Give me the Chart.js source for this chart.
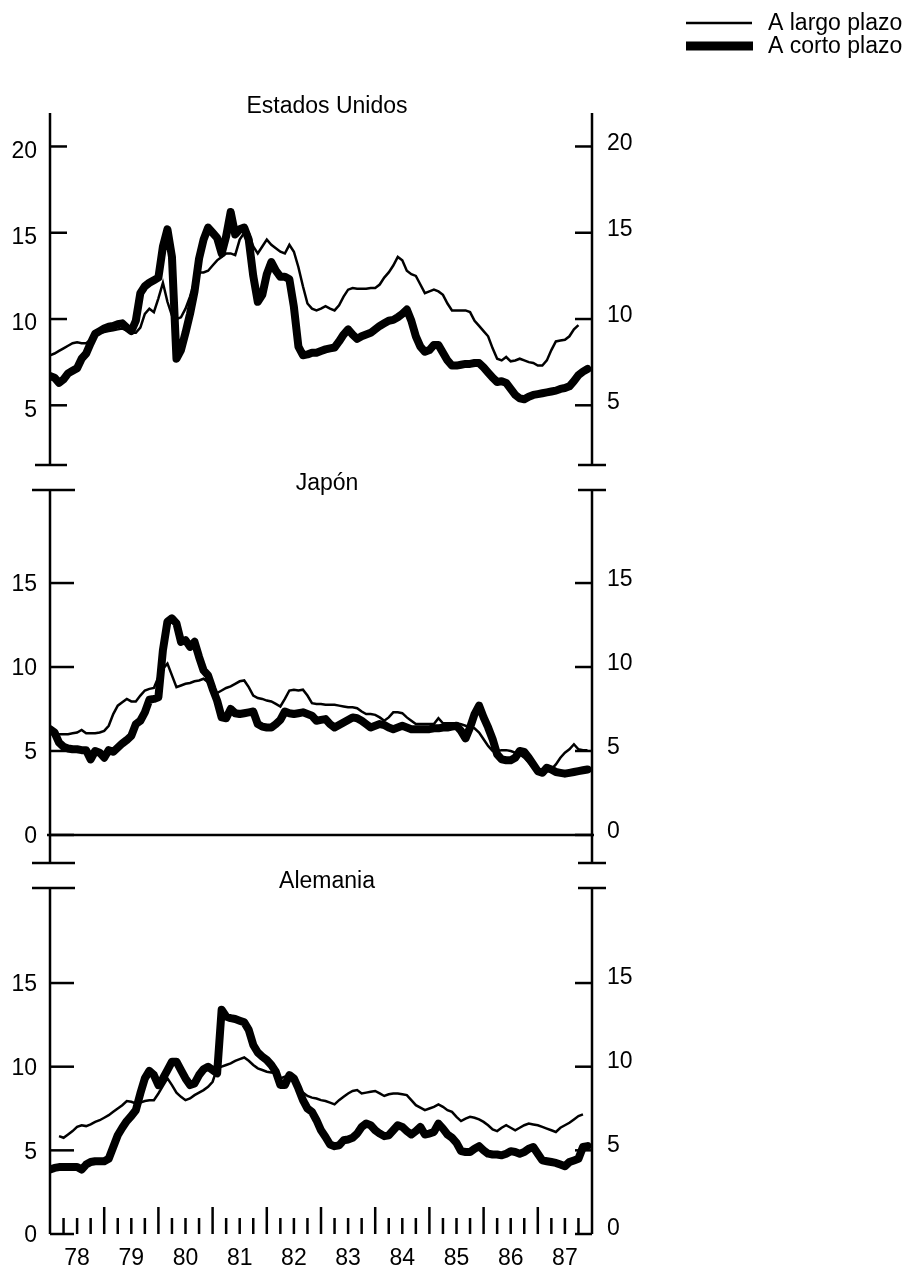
<!DOCTYPE html>
<html>
<head>
<meta charset="utf-8">
<script src="https://cdn.jsdelivr.net/npm/chart.js@4.4.1/dist/chart.umd.min.js"></script>
<style>
  body { margin: 0; background: #fff; }
  canvas { position: absolute; left: 0; }
</style>
</head>
<body>
<canvas id="us" width="914" height="480" style="top:0"></canvas>
<canvas id="jp" width="914" height="400" style="top:470px"></canvas>
<canvas id="de" width="914" height="398" style="top:870px"></canvas>
<script>
// months since Jan 1978
const months = Array.from({ length: 120 }, (_, i) => i);
const yearLabels = ['78', '79', '80', '81', '82', '83', '84', '85', '86', '87'];
const yearMid = [6, 18, 30, 42, 54, 66, 78, 90, 102, 114];
const ticksUS = [5, 10, 15, 20];
const ticksJP = [0, 5, 10, 15];
const ticksDE = [0, 5, 10, 15];

const usLong = [7.9, 8.0, 8.15, 8.3, 8.45, 8.6, 8.65, 8.6, 8.6, 8.8,
  9.1, 9.2, 9.25, 9.3, 9.35, 9.4, 9.45, 9.35, 9.2, 9.2,
  9.5, 10.3, 10.6, 10.4, 11.2, 12.1, 11.0, 10.2, 10.0, 10.1,
  10.6, 11.3, 12.2, 12.7, 12.7, 12.8, 13.1, 13.4, 13.6, 13.8,
  13.8, 13.7, 14.6, 15.0, 15.0, 14.2, 13.8, 14.2, 14.6, 14.3,
  14.1, 13.9, 13.8, 14.3, 13.9, 13.0, 11.9, 10.9, 10.6, 10.5,
  10.6, 10.75, 10.6, 10.5, 10.8, 11.3, 11.7, 11.8, 11.75, 11.75,
  11.75, 11.8, 11.8, 12.0, 12.4, 12.7, 13.1, 13.6, 13.4, 12.8,
  12.6, 12.5, 12.0, 11.5, 11.6, 11.7, 11.6, 11.4, 10.9, 10.5,
  10.5, 10.5, 10.5, 10.4, 9.9, 9.6, 9.3, 9.0, 8.3, 7.7,
  7.6, 7.8, 7.55, 7.6, 7.7, 7.6, 7.5, 7.45, 7.3, 7.3,
  7.6, 8.2, 8.7, 8.75, 8.8, 9.0, 9.4, 9.65];
const usShort = [6.7, 6.6, 6.3, 6.5, 6.85, 7.0, 7.15, 7.7, 8.0, 8.6,
  9.15, 9.3, 9.45, 9.55, 9.6, 9.7, 9.75, 9.5, 9.3, 9.9,
  11.5, 11.9, 12.1, 12.25, 12.4, 14.2, 15.2, 13.6, 7.7, 8.2,
  9.2, 10.3, 11.6, 13.5, 14.6, 15.3, 15.0, 14.7, 13.8, 14.8,
  16.2, 14.9, 15.2, 15.3, 14.6, 12.5, 11.0, 11.4, 12.6, 13.3,
  12.8, 12.45, 12.45, 12.3, 10.7, 8.4, 7.9, 7.95, 8.05, 8.05,
  8.15, 8.24, 8.3, 8.35, 8.7, 9.1, 9.4, 9.1, 8.85, 9.0,
  9.1, 9.2, 9.4, 9.6, 9.75, 9.9, 9.95, 10.1, 10.3, 10.55,
  9.9, 9.0, 8.4, 8.1, 8.2, 8.5, 8.5, 8.05, 7.6, 7.3,
  7.3, 7.35, 7.4, 7.4, 7.45, 7.45, 7.2, 6.9, 6.6, 6.35,
  6.4, 6.3, 5.95, 5.6, 5.4, 5.35, 5.5, 5.6, 5.65, 5.7,
  5.75, 5.8, 5.85, 5.95, 6.0, 6.1, 6.4, 6.75, 6.95, 7.1];

const jpLong = [6.0, 6.0, 6.0, 6.0, 6.0, 6.05, 6.1, 6.25, 6.05, 6.05,
  6.05, 6.1, 6.2, 6.5, 7.2, 7.7, 7.9, 8.1, 7.95, 7.95,
  8.3, 8.6, 8.7, 8.75, 9.4, 9.9, 10.2, 9.5, 8.8, 8.9,
  9.0, 9.05, 9.15, 9.2, 9.3, 9.1, 8.7, 8.45, 8.6, 8.75,
  8.85, 9.0, 9.15, 9.2, 8.8, 8.3, 8.15, 8.1, 8.0, 7.95,
  7.8, 7.65, 8.1, 8.6, 8.65, 8.6, 8.65, 8.3, 7.85, 7.8,
  7.8, 7.75, 7.75, 7.75, 7.7, 7.65, 7.6, 7.6, 7.55, 7.35,
  7.2, 7.2, 7.15, 7.0, 6.8, 7.0, 7.3, 7.3, 7.25, 7.0,
  6.8, 6.6, 6.6, 6.6, 6.6, 6.6, 6.95, 6.65, 6.65, 6.65,
  6.65, 6.6, 6.5, 6.45, 6.35, 6.1, 5.7, 5.3, 5.0, 5.0,
  5.05, 5.05, 5.0, 4.9, 4.8, 4.6, 4.3, 4.0, 3.8, 3.7,
  3.85, 3.9, 4.2, 4.6, 4.9, 5.1, 5.4, 5.1, 5.05, 5.05];
const jpShort = [6.3, 6.1, 5.5, 5.25, 5.15, 5.1, 5.1, 5.05, 5.05, 4.5,
  5.0, 4.9, 4.6, 5.05, 4.95, 5.2, 5.45, 5.65, 5.9, 6.6,
  6.8, 7.3, 8.05, 8.1, 8.2, 11.0, 12.7, 12.9, 12.6, 11.5,
  11.6, 11.2, 11.5, 10.6, 9.8, 9.5, 8.7, 8.0, 7.0, 6.95,
  7.5, 7.25, 7.2, 7.25, 7.3, 7.35, 6.6, 6.45, 6.4, 6.4,
  6.6, 6.85, 7.35, 7.25, 7.2, 7.25, 7.3, 7.2, 7.1, 6.8,
  6.85, 6.9, 6.6, 6.4, 6.55, 6.7, 6.85, 7.0, 6.95, 6.8,
  6.6, 6.4, 6.5, 6.6, 6.55, 6.4, 6.3, 6.4, 6.5, 6.4,
  6.3, 6.3, 6.3, 6.3, 6.3, 6.35, 6.35, 6.4, 6.4, 6.45,
  6.5, 6.2, 5.75, 6.4, 7.2, 7.7, 7.0, 6.4, 5.7, 4.8,
  4.5, 4.45, 4.45, 4.6, 5.0, 4.95, 4.6, 4.2, 3.8, 3.7,
  4.0, 3.9, 3.75, 3.7, 3.65, 3.7, 3.75, 3.8, 3.85, 3.9];

const deLong = [null, null, 5.85, 5.75, 5.95, 6.15, 6.4, 6.5, 6.45, 6.55,
  6.7, 6.8, 6.95, 7.1, 7.3, 7.5, 7.7, 7.95, 7.9, 7.8,
  7.85, 7.95, 8.0, 8.0, 8.4, 8.85, 9.3, 8.9, 8.45, 8.2,
  8.0, 8.1, 8.3, 8.45, 8.6, 8.8, 9.1, 9.9, 10.0, 10.1,
  10.2, 10.35, 10.45, 10.55, 10.35, 10.1, 9.9, 9.8, 9.7, 9.65,
  9.6, 9.3, 9.4, 9.5, 9.1, 8.7, 8.45, 8.25, 8.15, 8.1,
  8.0, 7.95, 7.85, 7.75, 8.0, 8.2, 8.4, 8.55, 8.6, 8.4,
  8.45, 8.5, 8.55, 8.4, 8.25, 8.35, 8.4, 8.4, 8.35, 8.3,
  8.0, 7.7, 7.55, 7.4, 7.5, 7.6, 7.75, 7.6, 7.4, 7.3,
  7.0, 6.75, 6.9, 7.0, 6.95, 6.85, 6.7, 6.5, 6.25, 6.15,
  6.35, 6.5, 6.35, 6.2, 6.35, 6.5, 6.6, 6.55, 6.5, 6.4,
  6.3, 6.2, 6.1, 6.35, 6.5, 6.65, 6.85, 7.05, 7.15];
const deShort = [3.85, 3.95, 4.0, 4.0, 4.0, 4.0, 4.0, 3.85, 4.15, 4.3,
  4.35, 4.35, 4.35, 4.5, 5.2, 5.9, 6.35, 6.75, 7.05, 7.4,
  8.4, 9.3, 9.75, 9.5, 8.9, 9.3, 9.8, 10.3, 10.3, 9.8,
  9.3, 8.9, 9.0, 9.5, 9.85, 10.0, 9.8, 9.6, 13.4, 13.0,
  12.9, 12.85, 12.75, 12.65, 12.2, 11.3, 10.85, 10.6, 10.4, 10.1,
  9.7, 8.9, 8.9, 9.5, 9.3, 8.7, 8.0, 7.5, 7.3, 6.8,
  6.2, 5.8, 5.35, 5.25, 5.3, 5.6, 5.65, 5.75, 6.0, 6.4,
  6.6, 6.5, 6.2, 6.0, 5.85, 5.9, 6.2, 6.5, 6.4, 6.15,
  5.95, 6.15, 6.4, 5.95, 6.0, 6.1, 6.6, 6.3, 5.95, 5.75,
  5.45, 4.95, 4.9, 4.9, 5.1, 5.25, 5.0, 4.8, 4.75, 4.75,
  4.7, 4.8, 4.95, 4.9, 4.8, 4.9, 5.1, 5.2, 4.8, 4.4,
  4.35, 4.3, 4.25, 4.15, 4.05, 4.3, 4.4, 4.5, 5.2, 5.25];

const FONT = '"Liberation Sans", Arial, Helvetica, sans-serif';
Chart.defaults.font.family = FONT;
Chart.defaults.font.size = 23;
Chart.defaults.color = '#000';

// axes, caps, tick marks, titles and the legend are drawn here
const framePlugin = {
  id: 'frame',
  afterDraw(chart, args, o) {
    const { ctx, chartArea: a, scales } = chart;
    const yl = scales.y;
    const line = (x1, y1, x2, y2) => { ctx.beginPath(); ctx.moveTo(x1, y1); ctx.lineTo(x2, y2); ctx.stroke(); };
    ctx.save();
    ctx.strokeStyle = '#000';
    ctx.lineWidth = 2.5;
    line(a.left, a.top, a.left, a.bottom);
    line(a.right, a.top, a.right, a.bottom);
    o.ticks.forEach(v => {
      const py = yl.getPixelForValue(v);
      line(a.left, py, a.left + o.leftTick, py);
      line(a.right - 17, py, a.right, py);
    });
    if (o.capTop) {
      line(a.left - o.capL[0], a.top, a.left + o.capL[1], a.top);
      line(a.right - 14, a.top, a.right + 14, a.top);
    }
    if (o.capBottom) {
      line(a.left - o.capL[0], a.bottom, a.left + o.capL[1], a.bottom);
      line(a.right - 14, a.bottom, a.right + 14, a.bottom);
    }
    if (o.zero) {
      const pz = yl.getPixelForValue(0);
      line(a.left - 3, pz, a.right + 2, pz);
    }
    if (o.xTicks) {
      const xs = scales.x;
      for (let m = 3; m < 120; m += 3) {
        const px = xs.getPixelForValue(m);
        line(px, a.bottom, px, a.bottom - (m % 12 === 0 ? 27 : 16));
      }
    }
    ctx.fillStyle = '#000';
    ctx.font = '23px ' + FONT;
    ctx.textAlign = 'center';
    ctx.textBaseline = 'middle';
    ctx.fillText(o.title, (a.left + a.right) / 2 + 6, a.top - 6);
    if (o.legend) {
      ctx.lineWidth = 2.5;
      line(686, 23, 752, 23);
      ctx.lineWidth = 9;
      line(686, 46, 753, 46);
      ctx.textAlign = 'left';
      ctx.fillText('A largo plazo', 768, 24);
      ctx.fillText('A corto plazo', 768, 47);
    }
    ctx.restore();
  }
};

function noPad(s) {
  s.paddingTop = 0; s.paddingBottom = 0; s.paddingLeft = 0; s.paddingRight = 0;
}

function makePanel(id, p) {
  return new Chart(document.getElementById(id), {
    type: 'line',
    data: {
      labels: months,
      datasets: [
        { label: 'A largo plazo', data: p.long, borderColor: '#000', borderWidth: 2.5, pointRadius: 0, tension: 0 },
        { label: 'A corto plazo', data: p.short, borderColor: '#000', borderWidth: 8, pointRadius: 0, tension: 0,
          borderJoinStyle: 'round', borderCapStyle: 'round' }
      ]
    },
    options: {
      responsive: false,
      animation: false,
      events: [],
      layout: { padding: p.padding },
      plugins: {
        legend: { display: false },
        tooltip: { enabled: false },
        frame: p.frame
      },
      scales: {
        x: {
          type: 'linear', min: 0, max: 120,
          display: !!p.showX,
          grid: { display: false, drawTicks: false }, border: { display: false },
          afterBuildTicks: s => { s.ticks = yearMid.map(v => ({ value: v })); },
          afterFit: s => { s.height = p.showX ? 34 : 0; noPad(s); },
          ticks: { padding: 11, autoSkip: false, maxRotation: 0, callback: (v, i) => yearLabels[i] }
        },
        y: {
          position: 'left', min: p.min, max: p.max,
          grid: { display: false, drawTicks: false }, border: { display: false },
          afterBuildTicks: s => { s.ticks = p.frame.ticks.map(v => ({ value: v })); },
          afterFit: s => { s.width = 50; noPad(s); },
          ticks: { padding: 13, labelOffset: p.offL }
        },
        yR: {
          position: 'right', min: p.min, max: p.max,
          grid: { display: false, drawTicks: false }, border: { display: false },
          afterBuildTicks: s => { s.ticks = p.frame.ticks.map(v => ({ value: v })); },
          afterFit: s => { s.width = 322; noPad(s); },
          ticks: { padding: 15, labelOffset: p.offR }
        }
      }
    },
    plugins: [framePlugin]
  });
}

makePanel('us', {
  long: usLong, short: usShort, min: 1.54, max: 21.94,
  padding: { top: 113, bottom: 15, left: 0, right: 0 },
  offL: 5, offR: -3,
  frame: { title: 'Estados Unidos', ticks: ticksUS, leftTick: 17, capL: [15, 17], capBottom: true, legend: true }
});
makePanel('jp', {
  long: jpLong, short: jpShort, min: -1.67, max: 20.54,
  padding: { top: 20, bottom: 7, left: 0, right: 0 },
  offL: 2, offR: -3,
  frame: { title: 'Japón', ticks: ticksJP, leftTick: 24, capL: [18, 25], capTop: true, capBottom: true, zero: true }
});
makePanel('de', {
  long: deLong, short: deShort, min: 0, max: 20.68, showX: true,
  padding: { top: 18, bottom: 0, left: 0, right: 0 },
  offL: 2, offR: -5,
  frame: { title: 'Alemania', ticks: ticksDE, leftTick: 24, capL: [18, 25], capTop: true, xTicks: true }
});
</script>
</body>
</html>
